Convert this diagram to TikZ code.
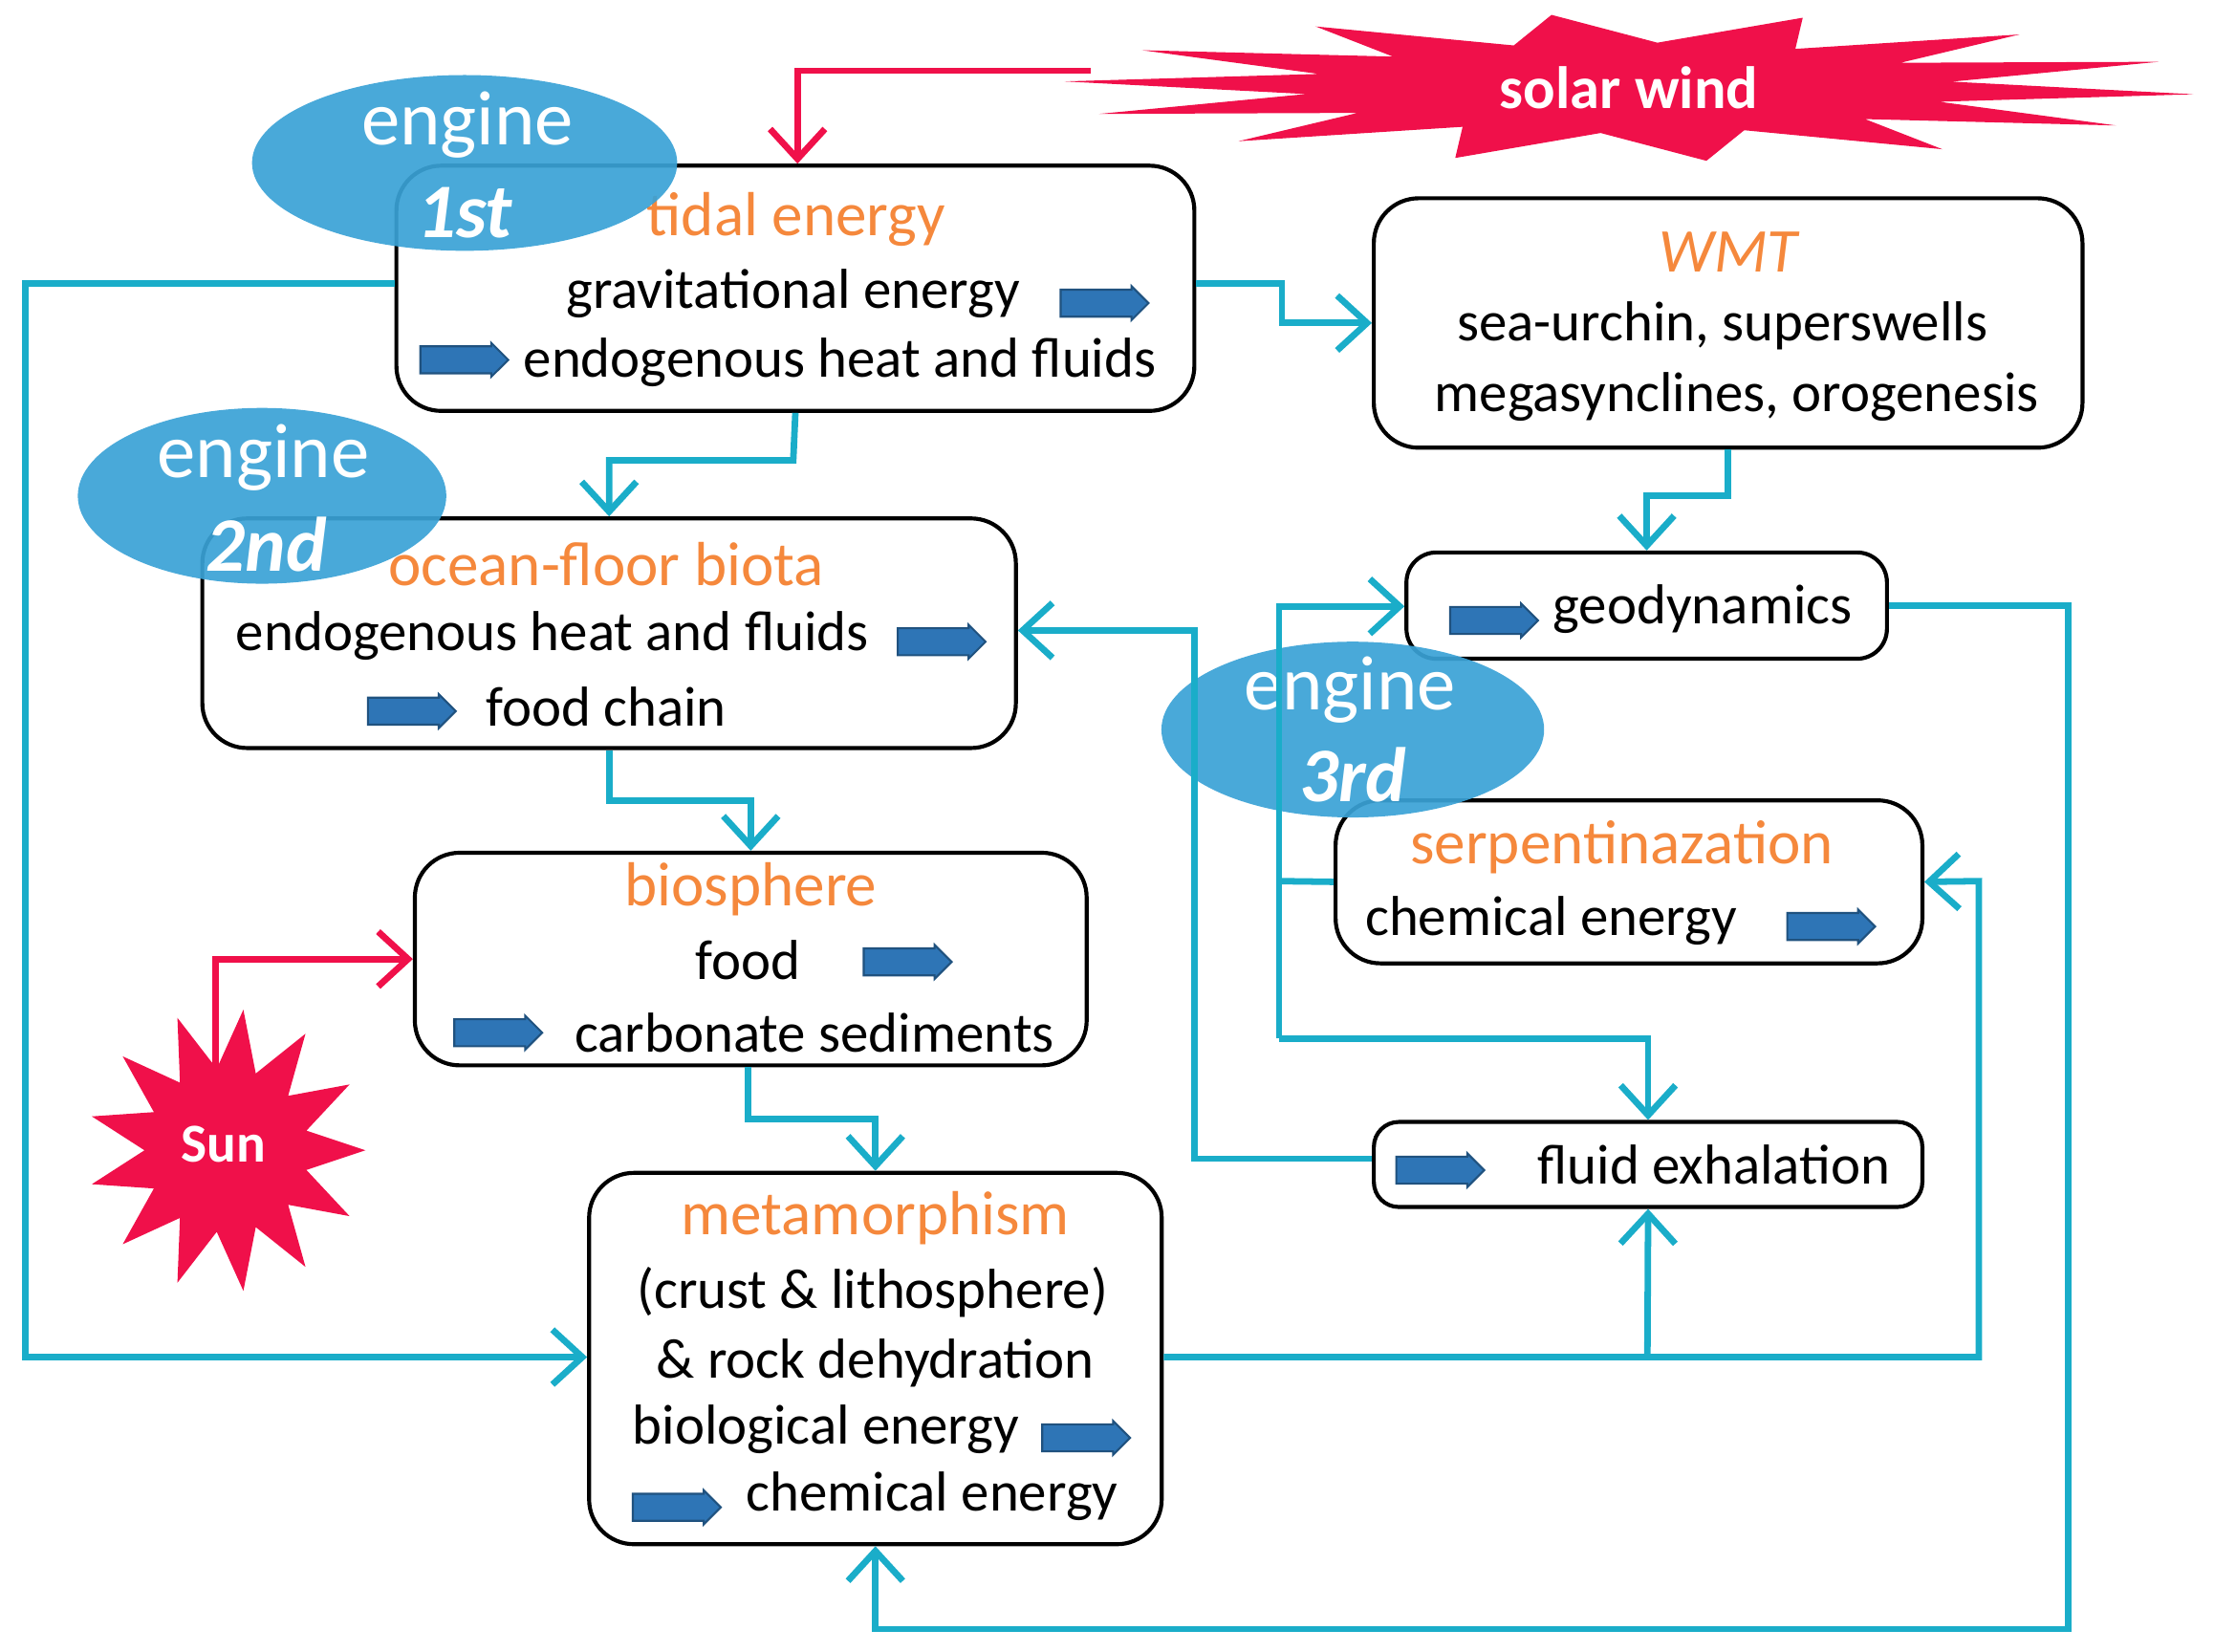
\documentclass[tikz,border=0pt]{standalone}
\usepackage{fontspec}
\setmainfont{Carlito}
\usetikzlibrary{shapes.geometric,shapes.arrows,arrows.meta}
\definecolor{cy}{HTML}{1AADC9}
\definecolor{rd}{HTML}{F0104A}
\definecolor{or}{HTML}{F5883C}
\definecolor{eb}{HTML}{3AA2D6}
\definecolor{ba}{HTML}{2E75B6}
\tikzset{
 box/.style={draw,thick,rounded corners=9pt,inner sep=0pt},
 ttl/.style={text=or,font=\fontsize{12.5}{15}\selectfont},
 txt/.style={font=\fontsize{11.3}{14}\selectfont},
 eng/.style={ellipse,fill=eb,fill opacity=0.92,text opacity=1,text=white,inner sep=0pt},
 ba/.style={single arrow,draw=ba!70!black,fill=ba,minimum width=0.24cm,single arrow head extend=0.02cm,minimum height=0.62cm,inner sep=2pt},
 ca/.style={draw=cy,line width=1.3pt,-{Straight Barb[length=6pt,width=11pt]}},
 cl/.style={draw=cy,line width=1.3pt},
 ra/.style={draw=rd,line width=1.3pt,-{Straight Barb[length=6pt,width=11pt]}},
 ef/.style={text=white,font=\fontsize{15.5}{18}\selectfont},
}
\begin{document}
\begin{tikzpicture}[x=0.01cm,y=-0.01cm]
\useasboundingbox (0,0) rectangle (1563,1166);
% stars
\fill[rd] plot[samples at={0,...,27}] ({1150+ifthenelse(mod(\x,2)==0,400,230)*cos(\x*360/28+5)},{62+ifthenelse(mod(\x,2)==0,52,32)*sin(\x*360/28+5)}) -- cycle;
\fill[rd] plot[samples at={0,...,25}] ({160+ifthenelse(mod(\x,2)==0,98,58)*cos(\x*360/26)},{812+ifthenelse(mod(\x,2)==0,100,58)*sin(\x*360/26)}) -- cycle;
\coordinate (sw) at (770,50);
\coordinate (sun) at (152,760);
\node[font=\fontsize{12}{15}\selectfont\bfseries,text=white] (swt) at (1150,62) {solar wind};
\node[font=\fontsize{11}{14}\selectfont\bfseries,text=white] (sunt) at (158,808) {Sun};
% boxes
\node[box,minimum width=5.63cm,minimum height=1.73cm] (tid) at (561.5,203.5) {};
\node[box,minimum width=5cm,minimum height=1.76cm] (wmt) at (1220,228) {};
\node[box,minimum width=5.74cm,minimum height=1.62cm] (ocn) at (430,447) {};
\node[box,minimum width=3.39cm,minimum height=0.75cm,rounded corners=6pt] (geo) at (1162.5,427.5) {};
\node[box,minimum width=4.14cm,minimum height=1.15cm] (ser) at (1150,622.5) {};
\node[box,minimum width=4.74cm,minimum height=1.5cm] (bio) at (530,677) {};
\node[box,minimum width=3.87cm,minimum height=0.6cm,rounded corners=5pt] (flu) at (1163.5,822) {};
\node[box,minimum width=4.04cm,minimum height=2.62cm] (met) at (618,959) {};
% texts
\node[ttl] (t1) at (562,155) {tidal energy};
\node[txt] (t2) at (560,207) {gravitational energy};
\node[ba] (a1) at (775,214) {};
\node[ba] (a2) at (323,254) {};
\node[txt] (t3) at (593,256) {endogenous heat and fluids};
\node[ttl,font=\fontsize{12.5}{15}\selectfont\itshape] (w1) at (1220,178) {WMT};
\node[txt] (w2) at (1216,230) {sea-urchin, superswells};
\node[txt] (w3) at (1226,280) {megasynclines, orogenesis};
\node[ttl] (o1) at (428,398) {ocean-floor biota};
\node[txt] (o2) at (390,449) {endogenous heat and fluids};
\node[ba] (a3) at (660,453) {};
\node[ba] (a4) at (286,502) {};
\node[txt] (o3) at (428,499) {food chain};
\node[ba] (a5) at (1050,438) {};
\node[txt] (g1) at (1202,430) {geodynamics};
\node[ttl] (s1) at (1145,598) {serpentinazation};
\node[txt] (s2) at (1095,650) {chemical energy};
\node[ba] (a6) at (1288,654) {};
\node[ttl] (b1) at (530,628) {biosphere};
\node[txt] (b2) at (528,678) {food};
\node[ba] (a7) at (636,679) {};
\node[ba] (a8) at (347,729) {};
\node[txt] (b3) at (575,729) {carbonate sediments};
\node[ba] (a9) at (1012,826) {};
\node[txt] (f1) at (1210,822) {fluid exhalation};
\node[ttl] (m1) at (618,860) {metamorphism};
\node[txt] (m2) at (616,912) {(crust \& lithosphere)};
\node[txt] (m3) at (618,962) {\& rock dehydration};
\node[txt] (m4) at (583,1009) {biological energy};
\node[ba] (a10) at (762,1015) {};
\node[ba] (a11) at (473,1064) {};
\node[txt] (m5) at (658,1056) {chemical energy};
% engines
\node[eng,minimum width=3cm,minimum height=1.24cm] (e1) at (328,115) {};
\node[ef] (e1a) at (330,88) {engine};
\node[ef,font=\fontsize{15.5}{18}\selectfont\bfseries\itshape] (e1b) at (328,150) {1st};
\node[eng,minimum width=2.6cm,minimum height=1.24cm] (e2) at (185,350) {};
\node[ef] (e2a) at (186,323) {engine};
\node[ef,font=\fontsize{15.5}{18}\selectfont\bfseries\itshape] (e2b) at (188,384) {2nd};
\node[eng,minimum width=2.7cm,minimum height=1.24cm] (e3) at (955,515) {};
\node[ef] (e3a) at (953,487) {engine};
\node[ef,font=\fontsize{15.5}{18}\selectfont\bfseries\itshape] (e3b) at (955,547) {3rd};
% coordinates
\coordinate (j1) at (903,622);
\coordinate (j2) at (1163,958);
\coordinate (j3) at (903,733);
% red connectors
\draw[ra] (sw) -| (tid.north -| 563,0);
\draw[ra] (sun) |- (bio.west);
% cyan connectors
\draw[ca] (tid.east |- 0,200) -| (905,228) -- (wmt.west |- 0,228);
\draw[ca] (tid.west |- 0,200) -| (18,958) -- (met.west |- 0,958);
\draw[ca] (tid.south) -- (560,325) -| (ocn.north);
\draw[ca] (wmt.south) -- (1220,350) -| (geo.north);
\draw[ca] (ocn.south) -- (430,565) -| (bio.north);
\draw[ca] (bio.south -| 528,0) -- (528,790) -| (met.north);
\draw[ca] (flu.west |- 0,818) -| (843,445) -- (ocn.east |- 0,445);
\draw[cl] (ser.west) -- (j1);
\draw[ca] (j3) -- (903,428) -- (geo.west |- 0,428);
\draw[ca] (j3) -| (flu.north);
\draw[ca] (geo.east) -| (1460,1150) -| (met.south);
\draw[ca] (met.east |- 0,958) -| (1397,622) -- (ser.east);
\draw[ca] (j2) -- (flu.south);
\end{tikzpicture}
\end{document}
